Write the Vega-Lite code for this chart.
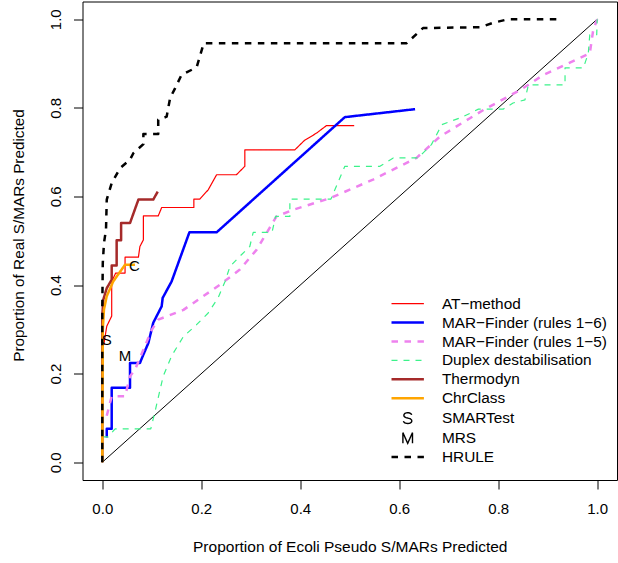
{
  "$schema": "https://vega.github.io/schema/vega-lite/v6.json",
  "autosize": {"type": "none"},
  "padding": {"left": 82.5, "top": 1.5, "right": 1, "bottom": 83},
  "width": 534.5,
  "height": 478.5,
  "background": "white",
  "config": {
    "view": {"stroke": "black", "strokeWidth": 1},
    "font": "Liberation Sans"
  },
  "datasets": {
    "diag": [{"x": 0, "y": 0}, {"x": 1, "y": 1}],
    "marks": [
      {"t": "S", "x": 0.009, "y": 0.277},
      {"t": "M", "x": 0.046, "y": 0.241},
      {"t": "C", "x": 0.065, "y": 0.442}
    ],
    "curves": [
      {"s": "AT−method", "i": 0, "x": 0.003, "y": 0.265},
      {"s": "AT−method", "i": 1, "x": 0.009, "y": 0.307},
      {"s": "AT−method", "i": 2, "x": 0.019, "y": 0.330},
      {"s": "AT−method", "i": 3, "x": 0.019, "y": 0.408},
      {"s": "AT−method", "i": 4, "x": 0.027, "y": 0.427},
      {"s": "AT−method", "i": 5, "x": 0.046, "y": 0.427},
      {"s": "AT−method", "i": 6, "x": 0.046, "y": 0.463},
      {"s": "AT−method", "i": 7, "x": 0.073, "y": 0.463},
      {"s": "AT−method", "i": 8, "x": 0.076, "y": 0.487},
      {"s": "AT−method", "i": 9, "x": 0.083, "y": 0.502},
      {"s": "AT−method", "i": 10, "x": 0.083, "y": 0.556},
      {"s": "AT−method", "i": 11, "x": 0.113, "y": 0.556},
      {"s": "AT−method", "i": 12, "x": 0.120, "y": 0.575},
      {"s": "AT−method", "i": 13, "x": 0.185, "y": 0.575},
      {"s": "AT−method", "i": 14, "x": 0.185, "y": 0.594},
      {"s": "AT−method", "i": 15, "x": 0.197, "y": 0.594},
      {"s": "AT−method", "i": 16, "x": 0.214, "y": 0.615},
      {"s": "AT−method", "i": 17, "x": 0.231, "y": 0.649},
      {"s": "AT−method", "i": 18, "x": 0.271, "y": 0.649},
      {"s": "AT−method", "i": 19, "x": 0.288, "y": 0.668},
      {"s": "AT−method", "i": 20, "x": 0.288, "y": 0.705},
      {"s": "AT−method", "i": 21, "x": 0.389, "y": 0.705},
      {"s": "AT−method", "i": 22, "x": 0.408, "y": 0.726},
      {"s": "AT−method", "i": 23, "x": 0.433, "y": 0.743},
      {"s": "AT−method", "i": 24, "x": 0.453, "y": 0.760},
      {"s": "AT−method", "i": 25, "x": 0.509, "y": 0.760},

      {"s": "MAR−Finder (rules 1−6)", "i": 0, "x": 0.009, "y": 0.056},
      {"s": "MAR−Finder (rules 1−6)", "i": 1, "x": 0.009, "y": 0.0755},
      {"s": "MAR−Finder (rules 1−6)", "i": 2, "x": 0.019, "y": 0.0755},
      {"s": "MAR−Finder (rules 1−6)", "i": 3, "x": 0.019, "y": 0.168},
      {"s": "MAR−Finder (rules 1−6)", "i": 4, "x": 0.056, "y": 0.168},
      {"s": "MAR−Finder (rules 1−6)", "i": 5, "x": 0.056, "y": 0.224},
      {"s": "MAR−Finder (rules 1−6)", "i": 6, "x": 0.076, "y": 0.224},
      {"s": "MAR−Finder (rules 1−6)", "i": 7, "x": 0.083, "y": 0.243},
      {"s": "MAR−Finder (rules 1−6)", "i": 8, "x": 0.093, "y": 0.269},
      {"s": "MAR−Finder (rules 1−6)", "i": 9, "x": 0.103, "y": 0.315},
      {"s": "MAR−Finder (rules 1−6)", "i": 10, "x": 0.120, "y": 0.352},
      {"s": "MAR−Finder (rules 1−6)", "i": 11, "x": 0.122, "y": 0.371},
      {"s": "MAR−Finder (rules 1−6)", "i": 12, "x": 0.140, "y": 0.408},
      {"s": "MAR−Finder (rules 1−6)", "i": 13, "x": 0.176, "y": 0.519},
      {"s": "MAR−Finder (rules 1−6)", "i": 14, "x": 0.231, "y": 0.519},
      {"s": "MAR−Finder (rules 1−6)", "i": 15, "x": 0.490, "y": 0.779},
      {"s": "MAR−Finder (rules 1−6)", "i": 16, "x": 0.632, "y": 0.797},

      {"s": "MAR−Finder (rules 1−5)", "i": 0, "x": 0.009, "y": 0.105},
      {"s": "MAR−Finder (rules 1−5)", "i": 1, "x": 0.019, "y": 0.149},
      {"s": "MAR−Finder (rules 1−5)", "i": 2, "x": 0.046, "y": 0.149},
      {"s": "MAR−Finder (rules 1−5)", "i": 3, "x": 0.056, "y": 0.194},
      {"s": "MAR−Finder (rules 1−5)", "i": 4, "x": 0.066, "y": 0.209},
      {"s": "MAR−Finder (rules 1−5)", "i": 5, "x": 0.083, "y": 0.254},
      {"s": "MAR−Finder (rules 1−5)", "i": 6, "x": 0.100, "y": 0.299},
      {"s": "MAR−Finder (rules 1−5)", "i": 7, "x": 0.113, "y": 0.322},
      {"s": "MAR−Finder (rules 1−5)", "i": 8, "x": 0.164, "y": 0.344},
      {"s": "MAR−Finder (rules 1−5)", "i": 9, "x": 0.238, "y": 0.401},
      {"s": "MAR−Finder (rules 1−5)", "i": 10, "x": 0.278, "y": 0.435},
      {"s": "MAR−Finder (rules 1−5)", "i": 11, "x": 0.312, "y": 0.480},
      {"s": "MAR−Finder (rules 1−5)", "i": 12, "x": 0.352, "y": 0.555},
      {"s": "MAR−Finder (rules 1−5)", "i": 13, "x": 0.386, "y": 0.570},
      {"s": "MAR−Finder (rules 1−5)", "i": 14, "x": 0.460, "y": 0.596},
      {"s": "MAR−Finder (rules 1−5)", "i": 15, "x": 0.547, "y": 0.638},
      {"s": "MAR−Finder (rules 1−5)", "i": 16, "x": 0.635, "y": 0.687},
      {"s": "MAR−Finder (rules 1−5)", "i": 17, "x": 0.682, "y": 0.735},
      {"s": "MAR−Finder (rules 1−5)", "i": 18, "x": 0.770, "y": 0.795},
      {"s": "MAR−Finder (rules 1−5)", "i": 19, "x": 0.844, "y": 0.840},
      {"s": "MAR−Finder (rules 1−5)", "i": 20, "x": 0.891, "y": 0.874},
      {"s": "MAR−Finder (rules 1−5)", "i": 21, "x": 0.985, "y": 0.923},
      {"s": "MAR−Finder (rules 1−5)", "i": 22, "x": 0.992, "y": 0.976},
      {"s": "MAR−Finder (rules 1−5)", "i": 23, "x": 1.0, "y": 1.0},

      {"s": "Duplex destabilisation", "i": 0, "x": 0.0, "y": 0.0575},
      {"s": "Duplex destabilisation", "i": 1, "x": 0.012, "y": 0.0575},
      {"s": "Duplex destabilisation", "i": 2, "x": 0.026, "y": 0.0755},
      {"s": "Duplex destabilisation", "i": 3, "x": 0.098, "y": 0.0755},
      {"s": "Duplex destabilisation", "i": 4, "x": 0.106, "y": 0.112},
      {"s": "Duplex destabilisation", "i": 5, "x": 0.123, "y": 0.194},
      {"s": "Duplex destabilisation", "i": 6, "x": 0.140, "y": 0.240},
      {"s": "Duplex destabilisation", "i": 7, "x": 0.164, "y": 0.284},
      {"s": "Duplex destabilisation", "i": 8, "x": 0.190, "y": 0.310},
      {"s": "Duplex destabilisation", "i": 9, "x": 0.214, "y": 0.337},
      {"s": "Duplex destabilisation", "i": 10, "x": 0.234, "y": 0.371},
      {"s": "Duplex destabilisation", "i": 11, "x": 0.248, "y": 0.408},
      {"s": "Duplex destabilisation", "i": 12, "x": 0.258, "y": 0.442},
      {"s": "Duplex destabilisation", "i": 13, "x": 0.278, "y": 0.465},
      {"s": "Duplex destabilisation", "i": 14, "x": 0.298, "y": 0.487},
      {"s": "Duplex destabilisation", "i": 15, "x": 0.305, "y": 0.519},
      {"s": "Duplex destabilisation", "i": 16, "x": 0.343, "y": 0.519},
      {"s": "Duplex destabilisation", "i": 17, "x": 0.350, "y": 0.555},
      {"s": "Duplex destabilisation", "i": 18, "x": 0.379, "y": 0.555},
      {"s": "Duplex destabilisation", "i": 19, "x": 0.379, "y": 0.594},
      {"s": "Duplex destabilisation", "i": 20, "x": 0.462, "y": 0.594},
      {"s": "Duplex destabilisation", "i": 21, "x": 0.490, "y": 0.668},
      {"s": "Duplex destabilisation", "i": 22, "x": 0.561, "y": 0.668},
      {"s": "Duplex destabilisation", "i": 23, "x": 0.588, "y": 0.687},
      {"s": "Duplex destabilisation", "i": 24, "x": 0.638, "y": 0.687},
      {"s": "Duplex destabilisation", "i": 25, "x": 0.665, "y": 0.717},
      {"s": "Duplex destabilisation", "i": 26, "x": 0.686, "y": 0.762},
      {"s": "Duplex destabilisation", "i": 27, "x": 0.729, "y": 0.780},
      {"s": "Duplex destabilisation", "i": 28, "x": 0.760, "y": 0.797},
      {"s": "Duplex destabilisation", "i": 29, "x": 0.810, "y": 0.797},
      {"s": "Duplex destabilisation", "i": 30, "x": 0.830, "y": 0.811},
      {"s": "Duplex destabilisation", "i": 31, "x": 0.854, "y": 0.818},
      {"s": "Duplex destabilisation", "i": 32, "x": 0.861, "y": 0.852},
      {"s": "Duplex destabilisation", "i": 33, "x": 0.935, "y": 0.852},
      {"s": "Duplex destabilisation", "i": 34, "x": 0.935, "y": 0.890},
      {"s": "Duplex destabilisation", "i": 35, "x": 0.972, "y": 0.890},
      {"s": "Duplex destabilisation", "i": 36, "x": 0.982, "y": 0.923},
      {"s": "Duplex destabilisation", "i": 37, "x": 0.985, "y": 0.965},
      {"s": "Duplex destabilisation", "i": 38, "x": 0.999, "y": 0.965},
      {"s": "Duplex destabilisation", "i": 39, "x": 1.0, "y": 1.0},

      {"s": "Thermodyn", "i": 0, "x": 0.0, "y": 0.0},
      {"s": "Thermodyn", "i": 1, "x": 0.0, "y": 0.330},
      {"s": "Thermodyn", "i": 2, "x": 0.002, "y": 0.367},
      {"s": "Thermodyn", "i": 3, "x": 0.009, "y": 0.393},
      {"s": "Thermodyn", "i": 4, "x": 0.019, "y": 0.412},
      {"s": "Thermodyn", "i": 5, "x": 0.019, "y": 0.444},
      {"s": "Thermodyn", "i": 6, "x": 0.029, "y": 0.444},
      {"s": "Thermodyn", "i": 7, "x": 0.029, "y": 0.501},
      {"s": "Thermodyn", "i": 8, "x": 0.038, "y": 0.501},
      {"s": "Thermodyn", "i": 9, "x": 0.038, "y": 0.540},
      {"s": "Thermodyn", "i": 10, "x": 0.056, "y": 0.540},
      {"s": "Thermodyn", "i": 11, "x": 0.073, "y": 0.593},
      {"s": "Thermodyn", "i": 12, "x": 0.103, "y": 0.593},
      {"s": "Thermodyn", "i": 13, "x": 0.112, "y": 0.611},

      {"s": "ChrClass", "i": 0, "x": 0.0, "y": 0.0},
      {"s": "ChrClass", "i": 1, "x": 0.001, "y": 0.300},
      {"s": "ChrClass", "i": 2, "x": 0.0034, "y": 0.345},
      {"s": "ChrClass", "i": 3, "x": 0.009, "y": 0.375},
      {"s": "ChrClass", "i": 4, "x": 0.022, "y": 0.408},
      {"s": "ChrClass", "i": 5, "x": 0.046, "y": 0.446},
      {"s": "ChrClass", "i": 6, "x": 0.066, "y": 0.446},

      {"s": "HRULE", "i": 0, "x": 0.0, "y": 0.0},
      {"s": "HRULE", "i": 1, "x": 0.0, "y": 0.350},
      {"s": "HRULE", "i": 2, "x": 0.001, "y": 0.450},
      {"s": "HRULE", "i": 3, "x": 0.0034, "y": 0.495},
      {"s": "HRULE", "i": 4, "x": 0.0075, "y": 0.525},
      {"s": "HRULE", "i": 5, "x": 0.009, "y": 0.593},
      {"s": "HRULE", "i": 6, "x": 0.019, "y": 0.630},
      {"s": "HRULE", "i": 7, "x": 0.036, "y": 0.664},
      {"s": "HRULE", "i": 8, "x": 0.056, "y": 0.683},
      {"s": "HRULE", "i": 9, "x": 0.063, "y": 0.698},
      {"s": "HRULE", "i": 10, "x": 0.083, "y": 0.718},
      {"s": "HRULE", "i": 11, "x": 0.083, "y": 0.741},
      {"s": "HRULE", "i": 12, "x": 0.113, "y": 0.741},
      {"s": "HRULE", "i": 13, "x": 0.113, "y": 0.773},
      {"s": "HRULE", "i": 14, "x": 0.130, "y": 0.780},
      {"s": "HRULE", "i": 15, "x": 0.137, "y": 0.822},
      {"s": "HRULE", "i": 16, "x": 0.147, "y": 0.844},
      {"s": "HRULE", "i": 17, "x": 0.160, "y": 0.874},
      {"s": "HRULE", "i": 18, "x": 0.181, "y": 0.886},
      {"s": "HRULE", "i": 19, "x": 0.191, "y": 0.893},
      {"s": "HRULE", "i": 20, "x": 0.205, "y": 0.946},
      {"s": "HRULE", "i": 21, "x": 0.615, "y": 0.946},
      {"s": "HRULE", "i": 22, "x": 0.648, "y": 0.980},
      {"s": "HRULE", "i": 23, "x": 0.764, "y": 0.982},
      {"s": "HRULE", "i": 24, "x": 0.790, "y": 0.992},
      {"s": "HRULE", "i": 25, "x": 0.820, "y": 1.0},
      {"s": "HRULE", "i": 26, "x": 0.928, "y": 1.0}
    ]
  },
  "layer": [
    {
      "data": {"name": "diag"},
      "mark": {"type": "line", "color": "black", "strokeWidth": 1},
      "encoding": {
        "x": {"field": "x", "type": "quantitative", "scale": {"domain": [-0.04, 1.04], "nice": false, "zero": false},
          "axis": {
            "values": [0, 0.2, 0.4, 0.6, 0.8, 1.0], "format": ".1f", "grid": false, "domain": false,
            "tickColor": "black", "tickSize": 9, "tickWidth": 1,
            "labelFont": "Liberation Sans", "labelFontSize": 15, "labelColor": "black",
            "labelBaseline": "alphabetic", "labelPadding": 24.5, "labelFlush": false, "labelOverlap": false,
            "title": "Proportion of Ecoli Pseudo S/MARs Predicted",
            "titleFont": "Liberation Sans", "titleFontSize": 15.5, "titleFontWeight": "normal", "titleColor": "black",
            "titleBaseline": "alphabetic", "titleY": 71
          }
        },
        "y": {"field": "y", "type": "quantitative", "scale": {"domain": [-0.04, 1.04], "nice": false, "zero": false},
          "axis": {
            "values": [0, 0.2, 0.4, 0.6, 0.8, 1.0], "format": ".1f", "grid": false, "domain": false,
            "tickColor": "black", "tickSize": 9, "tickWidth": 1,
            "labelFont": "Liberation Sans", "labelFontSize": 15, "labelColor": "black",
            "labelAngle": -90, "labelAlign": "center", "labelBaseline": "alphabetic", "labelPadding": 13.5,
            "labelFlush": false, "labelOverlap": false,
            "title": "Proportion of Real S/MARs Predicted",
            "titleFont": "Liberation Sans", "titleFontSize": 15.3, "titleFontWeight": "normal", "titleColor": "black",
            "titleAngle": -90, "titleAlign": "center", "titleBaseline": "alphabetic", "titleX": -58.8, "titleY": 233.5
          }
        }
      }
    },
    {
      "data": {"name": "curves"},
      "mark": {"type": "line", "strokeCap": "butt", "strokeJoin": "round"},
      "encoding": {
        "x": {"field": "x", "type": "quantitative"},
        "y": {"field": "y", "type": "quantitative"},
        "order": {"field": "i", "type": "quantitative"},
        "color": {
          "field": "s", "type": "nominal",
          "scale": {
            "domain": ["AT−method", "MAR−Finder (rules 1−6)", "MAR−Finder (rules 1−5)", "Duplex destabilisation", "Thermodyn", "ChrClass", "SMARTest", "MRS", "HRULE"],
            "range": ["#FF0000", "#0000FF", "#EE82EE", "#3CF28A", "#A52A2A", "#FFA500", "#000000", "#000000", "#000000"]
          },
          "legend": {
            "title": null, "orient": "none", "legendX": 317.5, "legendY": 294.5, "padding": 0,
            "labelFont": "Liberation Sans", "labelFontSize": 15.4, "labelColor": "black", "labelLimit": 0,
            "labelOffset": 26.5, "rowPadding": 1.9, "symbolSize": 64,
            "symbolType": "M-4.05,0L4.05,0",
            "encode": {
              "symbols": {
                "update": {
                  "shape": {"signal": "datum.value === 'SMARTest' ? 'M0.98,-0.8C0.9,-1.15 0.55,-1.34 0,-1.34C-0.55,-1.34 -0.95,-1.08 -0.95,-0.68C-0.95,-0.28 -0.55,-0.14 0,-0.02C0.55,0.1 1.02,0.28 1.02,0.72C1.02,1.12 0.6,1.34 0,1.34C-0.62,1.34 -1.02,1.05 -1.06,0.75' : datum.value === 'MRS' ? 'M-1.2,1.34L-1.2,-1.34L0,1.34L1.2,-1.34L1.2,1.34' : 'M-4.05,0L4.05,0'"}
                }
              }
            }
          }
        },
        "strokeDash": {
          "field": "s", "type": "nominal",
          "scale": {
            "domain": ["AT−method", "MAR−Finder (rules 1−6)", "MAR−Finder (rules 1−5)", "Duplex destabilisation", "Thermodyn", "ChrClass", "SMARTest", "MRS", "HRULE"],
            "range": [[1, 0], [1, 0], [6.5, 6.5], [6, 6], [1, 0], [1, 0], [1, 0], [1, 0], [6.5, 6.5]]
          }
        },
        "strokeWidth": {
          "field": "s", "type": "nominal",
          "scale": {
            "type": "ordinal",
            "domain": ["AT−method", "MAR−Finder (rules 1−6)", "MAR−Finder (rules 1−5)", "Duplex destabilisation", "Thermodyn", "ChrClass", "SMARTest", "MRS", "HRULE"],
            "range": [1.2, 2.5, 2.5, 1.2, 2.5, 2.5, 1.4, 1.4, 2.5]
          }
        }
      }
    },
    {
      "data": {"name": "marks"},
      "mark": {"type": "text", "font": "Liberation Sans", "fontSize": 15, "color": "black", "align": "center", "baseline": "middle"},
      "encoding": {
        "x": {"field": "x", "type": "quantitative"},
        "y": {"field": "y", "type": "quantitative"},
        "text": {"field": "t", "type": "nominal"}
      }
    }
  ]
}
